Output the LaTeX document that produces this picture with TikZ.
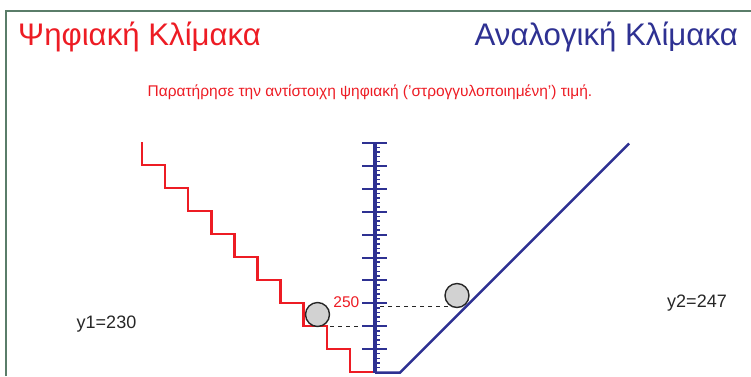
\documentclass[tikz,border=0pt]{standalone}
\usepackage{fontspec}
\setmainfont{Liberation Sans}
\usetikzlibrary{positioning, calc}
\definecolor{digired}{RGB}{237,28,36}
\definecolor{analogblue}{RGB}{46,49,146}
\definecolor{framegreen}{RGB}{90,125,105}

\begin{document}
\begin{tikzpicture}[
        x=1pt, y=-1pt,
        every node/.style={inner sep=0pt},
        bigtitle/.style={font=\fontsize{31.2}{31}\selectfont},
        ball/.style={circle, draw=black!85, line width=1.4pt, fill=gray!35, minimum size=24pt},
        level/.style={black!85, line width=1.5pt, dash pattern=on 4pt off 4pt},
        majortick/.style={analogblue, line width=2pt},
        minortick/.style={analogblue, line width=1.5pt}
    ]

    \useasboundingbox (0,0) rectangle (751,376);

    % Frame
    \draw[framegreen, line width=2pt] (6,376) -- (6,11) -- (751,11);

    % Titles
    \node[bigtitle, anchor=base west, text=digired] (dtitle) at (18,45) {Ψηφιακή Κλίμακα};
    \node[bigtitle, anchor=base east, text=analogblue] (atitle) at (738,45) {Αναλογική Κλίμακα};
    \node[anchor=base, text=digired, font=\fontsize{15.5}{15}\selectfont] (hint) at (370,96)
        {Παρατήρησε την αντίστοιχη ψηφιακή ('στρογγυλοποιημένη') τιμή.};

    % Dashed levels
    \coordinate (dstart) at (330,326.7);
    \coordinate (dlevel) at (375,326.7);
    \coordinate (astart) at (448,306.5);
    \coordinate (alevel) at (380,306.5);
    \draw[level] (dstart) -- (dlevel);
    \draw[level] (astart) -- (alevel);

    % Digital staircase
    \draw[digired, line width=2.5pt] (142,142)
        \foreach \i in {1,...,10} { -- ++(0,23) -- ++(23.1,0) };

    % Ruler
    \foreach \i in {0,...,49} {
        \draw[minortick] (376,143+4.58*\i) -- (380,143+4.58*\i);
    }
    \foreach \i in {0,...,9} {
        \draw[majortick] (362,143+22.9*\i) -- (387,143+22.9*\i);
    }
    \draw[analogblue, line width=3.5pt] (375,143) -- (375,373);
    \node[anchor=east, text=digired, font=\fontsize{15.5}{15}\selectfont] (mark) at (359.5,302.5) {250};

    % Analog line
    \draw[analogblue, line width=2.5pt] (375,372.5) -- (400,372.5) -- (629,143.5);

    % Balls
    \node[ball] (dball) at (317.5,314.5) {};
    \node[ball] (aball) at (457,295.5) {};

    % Values
    \node[text=black!85, font=\fontsize{18}{18}\selectfont] (yone) at (106.5,324) {y1=230};
    \node[text=black!85, font=\fontsize{18}{18}\selectfont] (ytwo) at (697,303) {y2=247};

\end{tikzpicture}
\end{document}
